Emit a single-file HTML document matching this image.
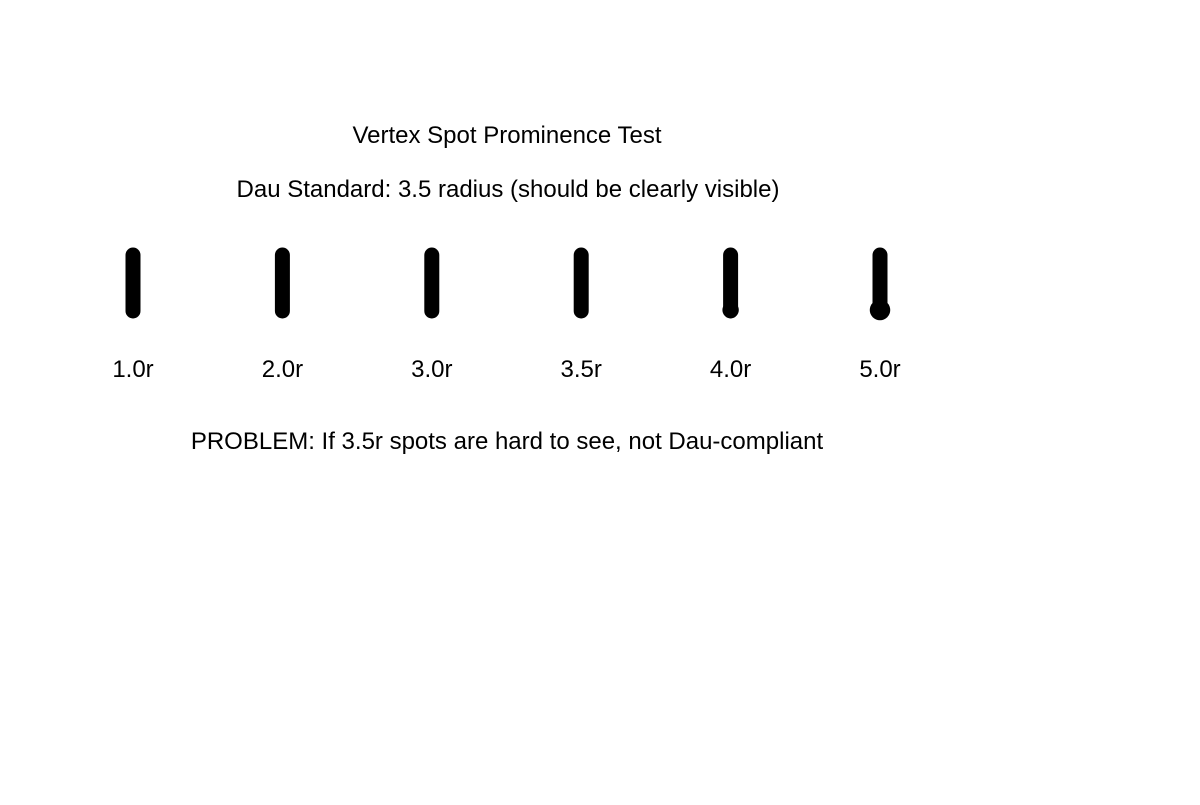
<!DOCTYPE html>
<html><head><meta charset="utf-8"><style>
body{margin:0;background:#fff}
svg text{font-family:"Liberation Sans",Arial,sans-serif;fill:#000}
</style></head><body>
<svg width="1200" height="800" viewBox="0 0 1200 800">
<text x="507" y="143" font-size="24" text-anchor="middle">Vertex Spot Prominence Test</text>
<text x="508" y="197" font-size="24" text-anchor="middle">Dau Standard: 3.5 radius (should be clearly visible)</text>
<g id="marks"></g>
<text x="507" y="449" font-size="24" text-anchor="middle">PROBLEM: If 3.5r spots are hard to see, not Dau-compliant</text>
</svg>
<script>
const labels=["1.0r","2.0r","3.0r","3.5r","4.0r","5.0r"];
const radii=[1.0,2.0,3.0,3.5,4.0,5.0];
const g=document.getElementById('marks');
const ns="http://www.w3.org/2000/svg";
function xPos(i){return 133+i*149.4;}
function rPx(r){return r*2.05;}
labels.forEach((lab,i)=>{
  const x=xPos(i);
  const l=document.createElementNS(ns,'line');
  
  
  l.setAttribute('x1',x);l.setAttribute('x2',x);l.setAttribute('y1',255);l.setAttribute('y2',311);
  l.setAttribute('stroke','#000');l.setAttribute('stroke-width',15);l.setAttribute('stroke-linecap','round');
  g.appendChild(l);
  const c=document.createElementNS(ns,'circle');
  
  
  c.setAttribute('cx',x);c.setAttribute('cy',310);c.setAttribute('r',rPx(radii[i]));
  g.appendChild(c);
  const t=document.createElementNS(ns,'text');
  
  
  t.setAttribute('x',x);t.setAttribute('y',377);t.setAttribute('font-size',24);t.setAttribute('text-anchor','middle');
  t.textContent=lab;
  g.appendChild(t);
});
</script>
</body></html>
